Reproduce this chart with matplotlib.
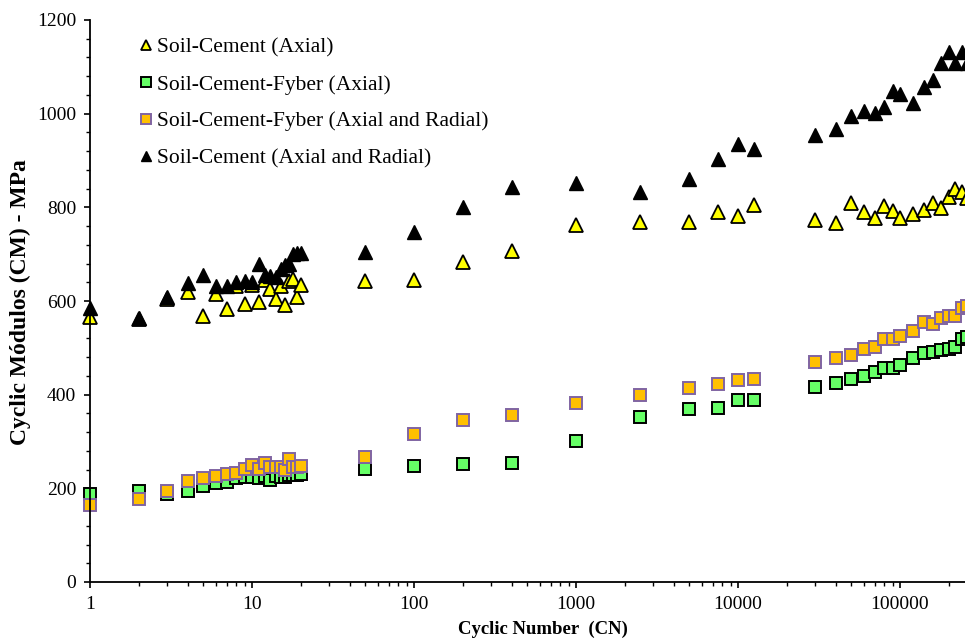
import numpy as np
import matplotlib
matplotlib.use('Agg')
from matplotlib import pyplot as plt
from matplotlib.ticker import FixedLocator, MultipleLocator, LogLocator, NullFormatter

plt.rcParams['font.family'] = ['Liberation Serif', 'DejaVu Serif']

# Cyclic numbers at which the modulus was recorded
ciclos = [1, 2, 3, 4, 5, 6, 7, 8, 9, 10, 11, 12, 13, 14, 15, 16, 17, 18, 19, 20,
          50, 100, 200, 400, 1000, 2500, 5000, 7500, 10000, 12500,
          30000, 40000, 50000, 60000, 70000, 80000, 90000, 100000, 120000,
          140000, 160000, 180000, 200000, 220000, 240000, 260000]

# Soil-Cement (Axial)
sc_axial = [566, 562, 605, 620, 568, 616, 582, 631, 593, 635, 597, 645, 625, 604, 631, 591, 643, 648, 608, 634,
            643, 645, 684, 707, 762, 768, 769, 789, 782, 804,
            772, 766, 810, 791, 778, 803, 792, 778, 785, 794, 809, 798, 823, 839, 833, 820]

# Soil-Cement-Fyber (Axial)
scf_axial = [188, 194, 187, 195, 204, 211, 214, 221, 225, 224, 221, 226, 218, 226, 224, 224, 228, 228, 228, 230,
             241, 248, 252, 254, 301, 353, 370, 372, 389, 389,
             416, 424, 433, 440, 448, 456, 458, 463, 478, 488, 492, 495, 497, 502, 518, 524]

# Soil-Cement-Fyber (Axial and Radial)
scf_ar = [164, 177, 194, 216, 221, 226, 230, 232, 241, 250, 241, 255, 246, 246, 246, 239, 263, 246, 245, 248,
          267, 317, 346, 357, 382, 399, 415, 422, 431, 433,
          470, 479, 485, 497, 501, 518, 518, 526, 537, 555, 551, 563, 567, 567, 584, 590]

# Soil-Cement (Axial and Radial)
sc_ar = [584, 563, 609, 638, 656, 633, 631, 641, 643, 641, 678, 656, 653, 652, 668, 676, 680, 700, 703, 702,
         705, 748, 801, 843, 853, 833, 861, 903, 935, 924,
         955, 967, 994, 1006, 1002, 1015, 1048, 1041, 1022, 1058, 1071, 1109, 1132, 1108, 1132, 1108]

fig = plt.figure(figsize=(9.65, 6.4), dpi=100)
ax = fig.add_axes([90/965, 58/640, 875/965, 562/640])

ax.plot(ciclos, sc_axial, '^', ms=10, mfc='#FFFF00', mec='black', mew=1.3,
        label='Soil-Cement (Axial)', clip_on=False)
ax.plot(ciclos, scf_axial, 's', ms=8.7, mfc='#66FF66', mec='black', mew=1.4,
        label='Soil-Cement-Fyber (Axial)', clip_on=False)
ax.plot(ciclos, scf_ar, 's', ms=8.7, mfc='#FFC000', mec='#8064A2', mew=1.4,
        label='Soil-Cement-Fyber (Axial and Radial)', clip_on=False)
ax.plot(ciclos, sc_ar, '^', ms=10, mfc='black', mec='black', mew=1.0,
        label='Soil-Cement (Axial and Radial)', clip_on=False)

ax.set_xscale('log')
ax.set_xlim(1, 10**(875/162))
ax.set_ylim(0, 1200)

ax.xaxis.set_major_locator(FixedLocator([1, 10, 100, 1000, 10000, 100000]))
ax.set_xticklabels(['1', '10', '100', '1000', '10000', '100000'])
ax.xaxis.set_minor_locator(LogLocator(base=10, subs=np.arange(2, 10), numticks=20))
ax.xaxis.set_minor_formatter(NullFormatter())
ax.yaxis.set_major_locator(MultipleLocator(200))
ax.yaxis.set_minor_locator(MultipleLocator(40))

for s in ['top', 'right']:
    ax.spines[s].set_visible(False)
for s in ['left', 'bottom']:
    ax.spines[s].set_linewidth(1.3)
ax.tick_params(which='major', direction='out', length=4, width=1.2, labelsize=14, pad=6)
ax.tick_params(which='minor', direction='out', length=3, width=1.0)

fig.text(20/965, 1 - 302/640, 'Cyclic Módulos (CM) - MPa', rotation=90, fontsize=17,
         fontweight='bold', ha='center', va='center')
fig.text(543/965, 1 - 629/640, 'Cyclic Number  (CN)', fontsize=13.5,
         fontweight='bold', ha='center', va='center')

leg = ax.legend(loc='upper left', bbox_to_anchor=(41/875, 1 - 9/562), frameon=False,
                fontsize=15.5, handlelength=0.55, handletextpad=0.25,
                labelspacing=0.78, borderaxespad=0)
# smaller markers inside the legend
for h, m in zip(leg.legend_handles, [7.5, 7.2, 7.2, 7.5]):
    h.set_markersize(m)

fig.savefig('out.png', dpi=100)
